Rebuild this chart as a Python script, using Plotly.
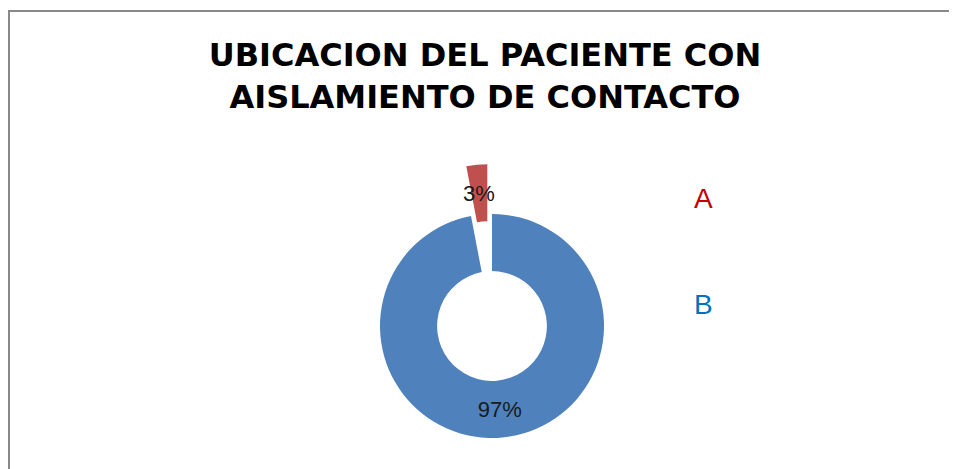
import math
import plotly.graph_objects as go

# The page body adds an 8px margin; the figure fills the rest of the 957x469 window.
OFF = 8
W, H = 957 - OFF, 469 - OFF

# ---- data ----
categories = ["B", "A"]          # drawing order (clockwise from 12 o'clock)
values = [97, 3]
legend_labels = ["A", "B"]
title_lines = ["UBICACION DEL PACIENTE CON", "AISLAMIENTO DE CONTACTO"]

# ---- style ----
slice_colors = {"B": "#4F81BD", "A": "#C0504D"}
label_colors = {"A": "#C00000", "B": "#0070C0"}
pulled = "A"
TRANSPARENT = "rgba(0,0,0,0)"
TXT_FONT = dict(family="Liberation Sans", size=22, color="#1a1a1a")


def px_x(x):  # window pixel -> paper fraction
    return (x - OFF) / W


def px_y(y):
    return 1 - (y - OFF) / H


cx, cy, R = 492, 326, 112     # pie centre / radius in window pixels
pull_px = 50                   # exploded slice offset
hole = 0.49


def domain(cxp, cyp, r):
    return dict(x=[px_x(cxp - r), px_x(cxp + r)],
                y=[px_y(cyp + r), px_y(cyp - r)])


total = sum(values)
idx = categories.index(pulled)
mid_frac = (sum(values[:idx]) + values[idx] / 2) / total
ang = 2 * math.pi * mid_frac
pcx = cx + pull_px * math.sin(ang)
pcy = cy - pull_px * math.cos(ang)

common = dict(labels=categories, values=values, sort=False, direction="clockwise",
              rotation=0, hole=hole, textposition="inside",
              insidetextorientation="horizontal", textfont=TXT_FONT,
              hoverinfo="label+percent", showlegend=False)

base = go.Pie(**common,
              domain=domain(cx, cy, R),
              marker=dict(colors=[slice_colors[c] if c != pulled else TRANSPARENT for c in categories],
                          line=dict(width=0)),
              texttemplate=["%{percent}" if c != pulled else "" for c in categories])

explode = go.Pie(**common,
                 domain=domain(pcx, pcy, R),
                 marker=dict(colors=[slice_colors[c] if c == pulled else TRANSPARENT for c in categories],
                             line=dict(width=0)),
                 texttemplate=["" for c in categories])

fig = go.Figure([base, explode])

# percentage label of the exploded slice, placed at the slice's ring centre
r_mid = R * (1 + hole) / 2
annotations = [dict(text=f"{round(100 * values[idx] / total)}%",
                    x=px_x(pcx + r_mid * math.sin(ang)), y=px_y(pcy - r_mid * math.cos(ang)),
                    xref="paper", yref="paper", xanchor="center", yanchor="middle",
                    showarrow=False, font=TXT_FONT)]

leg_y = [199, 304]
for lab, y in zip(legend_labels, leg_y):
    annotations.append(dict(text=lab, x=px_x(703), y=px_y(y), xref="paper", yref="paper",
                            xanchor="center", yanchor="middle", showarrow=False,
                            font=dict(family="Liberation Sans", size=28, color=label_colors[lab])))

fig.update_layout(
    width=W, height=H, margin=dict(l=0, r=0, t=0, b=0),
    paper_bgcolor="white", plot_bgcolor="white",
    title=dict(text="<b>" + "<br>".join(title_lines) + "</b>",
               x=px_x(485), xanchor="center", xref="paper",
               y=0.874, yanchor="top", yref="container",
               font=dict(family="DejaVu Sans", size=32, color="black")),
    uniformtext=dict(minsize=22, mode="show"),
    annotations=annotations,
    shapes=[dict(type="rect", xref="paper", yref="paper",
                 x0=px_x(9), x1=1.05, y0=-0.05, y1=px_y(11),
                 line=dict(color="#898989", width=2), fillcolor="rgba(0,0,0,0)")],
)

fig.write_html("out.html")
